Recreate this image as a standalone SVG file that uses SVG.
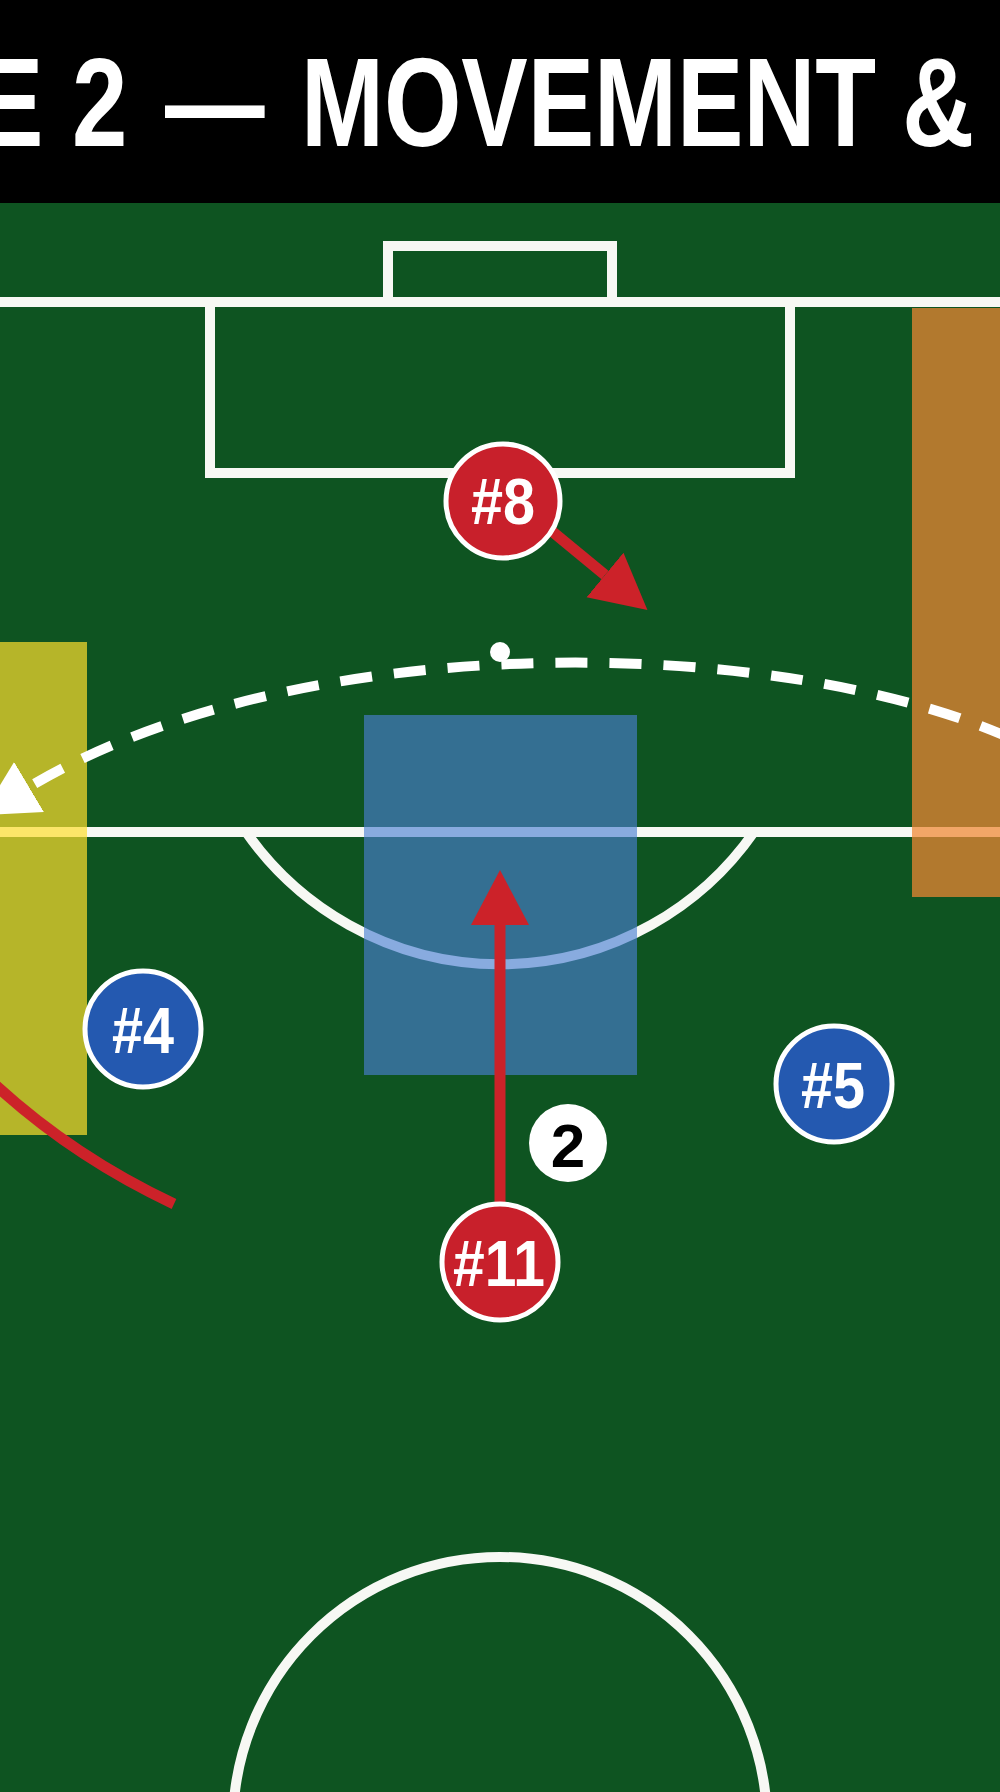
<svg xmlns="http://www.w3.org/2000/svg" width="1000" height="1792" viewBox="0 0 1000 1792">
  <style>
    .pitch { fill: none; stroke: #f7f8f4; stroke-width: 10; }
    .zone { stroke: none; }
    .run { fill: none; stroke: #cc2229; stroke-width: 11; stroke-linecap: butt; }
    .pass { fill: none; stroke: #ffffff; stroke-width: 10; stroke-dasharray: 32 22; }
    .red circle { fill: #c8202b; stroke: #ffffff; stroke-width: 5; }
    .blue circle { fill: #2459b0; stroke: #ffffff; stroke-width: 5; }
    .lbl { font-family: "Liberation Sans", Arial, sans-serif; font-weight: bold; font-size: 64px; fill: #ffffff; }
    .title { font-family: "Liberation Sans", Arial, sans-serif; font-weight: bold; font-size: 126px; fill: #ffffff; }
  </style>
  <defs>
    <marker id="headRed" markerUnits="userSpaceOnUse" markerWidth="56" markerHeight="60" refX="0" refY="30" orient="auto" viewBox="0 0 56 60">
      <path d="M0,1 L55,30 L0,59 z" fill="#cc2229"/>
    </marker>
    <marker id="headWhite" markerUnits="userSpaceOnUse" markerWidth="56" markerHeight="60" refX="0" refY="30" orient="auto" viewBox="0 0 56 60">
      <path d="M0,1 L55,30 L0,59 z" fill="#ffffff"/>
    </marker>
  </defs>

  <!-- background -->
  <rect x="0" y="0" width="1000" height="1792" fill="#0e5421"/>
  <rect x="0" y="0" width="1000" height="203" fill="#000000"/>

  <!-- title -->
  <g id="title">
    <text class="title" transform="scale(0.79 1)" y="146"><tspan x="-29">E</tspan><tspan x="91">2</tspan><tspan x="209">—</tspan><tspan x="381">MOVEMENT</tspan><tspan x="1142">&amp;</tspan></text>
  </g>

  <!-- pitch markings -->
  <g id="pitch">
    <line class="pitch" x1="0" y1="302" x2="1000" y2="302"/>
    <path class="pitch" d="M388 302 V246 H612 V302"/>
    <path class="pitch" d="M210 302 V473 H790 V302"/>
    <line class="pitch" x1="0" y1="832" x2="1000" y2="832"/>
    <path class="pitch" d="M246 832 A310 310 0 0 0 754 832"/>
    <circle class="pitch" cx="500" cy="1824" r="267"/>
  </g>

  <!-- zones -->
  <g id="zones">
    <rect id="zone-yellow" class="zone" x="0" y="642" width="87" height="493" fill="#fdde2e" fill-opacity="0.7"/>
    <rect id="zone-orange" class="zone" x="912" y="308" width="88" height="589" fill="#f08833" fill-opacity="0.73"/>
    <rect id="zone-blue" class="zone" x="364" y="715" width="273" height="360" fill="#4a7ed3" fill-opacity="0.64"/>
  </g>

  <!-- connectors -->
  <g id="connectors">
    <path class="pass" d="M1010 738 C780 635 300 625 29 787" marker-end="url(#headWhite)"/>
    <path class="run" d="M548 528 L605 575" marker-end="url(#headRed)"/>
    <path class="run" d="M500 1205 L500 925" marker-end="url(#headRed)"/>
    <path class="run" d="M-10 1080 Q70 1155 174 1204"/>
  </g>

  <!-- ball -->
  <g id="ball">
    <circle cx="500" cy="652" r="10" fill="#ffffff"/>
  </g>

  <!-- players -->
  <g id="p8" class="red">
    <circle cx="503" cy="501" r="57"/>
    <text class="lbl" x="471" y="524" textLength="64" lengthAdjust="spacingAndGlyphs">#8</text>
  </g>
  <g id="p4" class="blue">
    <circle cx="143" cy="1029" r="58"/>
    <text class="lbl" x="112" y="1053" textLength="62" lengthAdjust="spacingAndGlyphs">#4</text>
  </g>
  <g id="p5" class="blue">
    <circle cx="834" cy="1084" r="58"/>
    <text class="lbl" x="801" y="1108" textLength="64" lengthAdjust="spacingAndGlyphs">#5</text>
  </g>
  <g id="p11" class="red">
    <circle cx="500" cy="1262" r="58"/>
    <text class="lbl" x="453" y="1286" textLength="92" lengthAdjust="spacingAndGlyphs">#11</text>
  </g>
  <g id="step2">
    <circle cx="568" cy="1143" r="39" fill="#ffffff"/>
    <text x="568" y="1167" text-anchor="middle" font-family="Liberation Sans, Arial, sans-serif" font-weight="bold" font-size="62" fill="#000000">2</text>
  </g>
</svg>
